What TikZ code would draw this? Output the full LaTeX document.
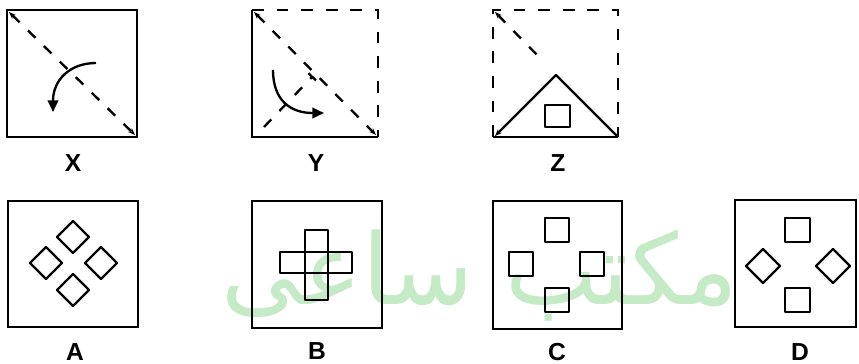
\documentclass[tikz,border=0pt]{standalone}
\usepackage{fontspec}
\usepackage{graphicx}
\setmainfont{Liberation Sans}
\newfontfamily\arabicfont[Script=Arabic]{DejaVu Sans}
\TeXXeTstate=1
\usetikzlibrary{arrows.meta}
\definecolor{stamp}{RGB}{196,234,198}

\begin{document}
\begin{tikzpicture}[x=0.03cm,y=-0.03cm,
    frame/.style={line width=2.3pt},
    dframe/.style={line width=2.2pt,dash pattern=on 10pt off 11pt},
    fold/.style={line width=2pt,dash pattern=on 9pt off 10pt},
    piece/.style={line width=2.1pt,line join=round},
    turn/.style={line width=2pt,-{Triangle[length=10pt,width=9pt]}},
    lbl/.style={font=\fontsize{21}{23}\selectfont\bfseries}]
        \useasboundingbox (0,0) rectangle (859,364);
        % watermark
        \node[text=stamp,inner sep=0pt] (stamp) at (480,276) {\resizebox{15.5cm}{!}{\arabicfont\beginR مکتب ساعی\endR}};
        % X
        \draw[frame] (7,10) rectangle (137,137);
        \draw[fold,{Stealth[length=6pt]}-{Stealth[length=6pt]}] (9,12)--(135,135);
        \draw[turn] (96,63) .. controls (70,63) and (53,80) .. (53,112);
        \node[lbl] (labx) at (73,163) {X};
        % Y
        \draw[frame] (252,10)--(252,137)--(378,137);
        \draw[dframe] (252,10)--(378,10)--(378,137);
        \draw[fold,{Stealth[length=6pt]}-{Stealth[length=6pt]}] (254,12)--(376,135);
        \draw[fold,-{Bar[width=9pt]}] (264,127)--(313,76);
        \draw[turn] (273,70) .. controls (273,100) and (290,113) .. (324,113);
        \node[lbl] (laby) at (316,163) {Y};
        % Z
        \draw[dframe] (493,137)--(493,10)--(618,10)--(618,137);
        \draw[frame] (493,137)--(618,137);
        \draw[fold,{Stealth[length=6pt]}-] (495,12)--(543,61);
        \draw[piece,-{Stealth[length=6pt]}] (618,137)--(556,75)--(495,136);
        \draw[piece] (545,105) rectangle (570,127);
        \node[lbl] (labz) at (558,163) {Z};
        % A
        \draw[frame] (8,201) rectangle (138,327);
        \foreach \cx/\cy in {73/237,46/263,101/263,73/290}
            \draw[piece] (\cx,\cy-16)--(\cx+16,\cy)--(\cx,\cy+16)--(\cx-16,\cy)--cycle;
        \node[lbl] (laba) at (75,352) {A};
        % B
        \draw[frame] (252,201) rectangle (382,328);
        \draw[piece] (305,230) rectangle (328,300);
        \draw[piece] (280,252) rectangle (352,273);
        \node[lbl] (labb) at (317,351) {B};
        % C
        \draw[frame] (493,201) rectangle (622,329);
        \foreach \cx/\cy in {557/230,521/264,592/264,557/300}
            \draw[piece] (\cx-12,\cy-12) rectangle (\cx+12,\cy+12);
        \node[lbl] (labc) at (557,352) {C};
        % D
        \draw[frame] (735,200) rectangle (856,327);
        \foreach \cy in {230,300}
            \draw[piece] (785,\cy-12) rectangle (810,\cy+12);
        \foreach \cx in {763,833}
            \draw[piece] (\cx,249)--(\cx+17,266)--(\cx,283)--(\cx-17,266)--cycle;
        \node[lbl] (labd) at (800,352) {D};
    \end{tikzpicture}
\end{document}
